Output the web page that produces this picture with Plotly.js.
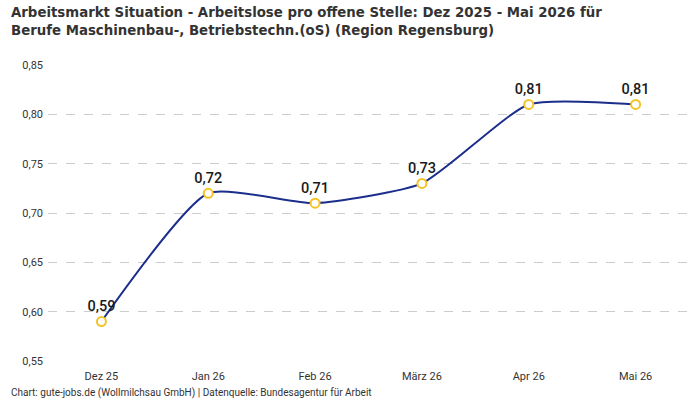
<!DOCTYPE html>
<html>
<head>
<meta charset="utf-8">
<script src="https://cdn.plot.ly/plotly-3.0.1.min.js"></script>
<style>
  html, body { margin: 0; padding: 0; background: #fff; }
  #chart { width: 700px; height: 400px; }
</style>
</head>
<body>
<div id="chart"></div>
<script>
// Monthly ratio: unemployed persons per open position
const months = ["Dez 25", "Jan 26", "Feb 26", "März 26", "Apr 26", "Mai 26"];
const ratio = [0.59, 0.72, 0.71, 0.73, 0.81, 0.81];
const yTicks = [0.55, 0.60, 0.65, 0.70, 0.75, 0.80, 0.85];
const titleLines = [
  "Arbeitsmarkt Situation - Arbeitslose pro offene Stelle: Dez 2025 - Mai 2026 für",
  "Berufe Maschinenbau-, Betriebstechn.(oS) (Region Regensburg)"
];
const sourceNote = "Chart: gute-jobs.de (Wollmilchsau GmbH) | Datenquelle: Bundesagentur für Arbeit";

const labels = ratio.map(v => v.toFixed(2).replace(".", ","));

const trace = {
  x: months,
  y: ratio,
  type: "scatter",
  mode: "lines+markers+text",
  line: { color: "#1c2e8c", width: 2, shape: "spline", smoothing: 0.55 },
  marker: { size: 9, color: "#ffffff", line: { color: "#f6c324", width: 2 } },
  text: labels,
  textposition: "top center",
  textfont: { family: "Roboto, 'Noto Sans', sans-serif", size: 14.5, color: "#1a1a1a", weight: 500 },
  cliponaxis: false,
  hoverinfo: "skip"
};

const titleFont = { family: "'DejaVu Sans Condensed', 'Liberation Sans Narrow', sans-serif", size: 14.8, color: "#333333", weight: 700 };

const layout = {
  width: 700,
  height: 400,
  margin: { l: 48, r: 11, t: 65, b: 39 },
  paper_bgcolor: "#ffffff",
  plot_bgcolor: "#ffffff",
  separators: ",.",
  showlegend: false,
  font: { family: "Roboto, 'Noto Sans', sans-serif", color: "#333333", size: 11 },
  xaxis: {
    type: "category",
    range: [-0.5, 5.5],
    showgrid: false,
    zeroline: false,
    showline: false,
    ticks: "",
    ticklabelstandoff: 7,
    tickfont: { size: 11, color: "#333333" },
    fixedrange: true
  },
  yaxis: {
    range: [0.55, 0.85],
    tickvals: yTicks,
    tickformat: ".2f",
    showgrid: true,
    gridcolor: "#cccccc",
    griddash: "dash",
    gridwidth: 1,
    zeroline: false,
    showline: false,
    ticks: "",
    ticklabelstandoff: 4,
    tickfont: { size: 11, color: "#333333" },
    fixedrange: true
  },
  annotations: [
    {
      text: "<b>" + titleLines[0] + "</b>",
      xref: "paper", yref: "paper",
      x: -0.061, xanchor: "left",
      y: 1.182, yanchor: "middle",
      showarrow: false,
      font: titleFont
    },
    {
      text: "<b>" + titleLines[1] + "</b>",
      xref: "paper", yref: "paper",
      x: -0.061, xanchor: "left",
      y: 1.12, yanchor: "middle",
      showarrow: false,
      font: titleFont
    },
    {
      text: sourceNote,
      xref: "paper", yref: "paper",
      x: -0.061, xanchor: "left",
      y: -0.108, yanchor: "middle",
      showarrow: false,
      font: { size: 10, color: "#333333" }
    }
  ]
};

Plotly.newPlot("chart", [trace], layout, { displayModeBar: false, staticPlot: true });
</script>
</body>
</html>
